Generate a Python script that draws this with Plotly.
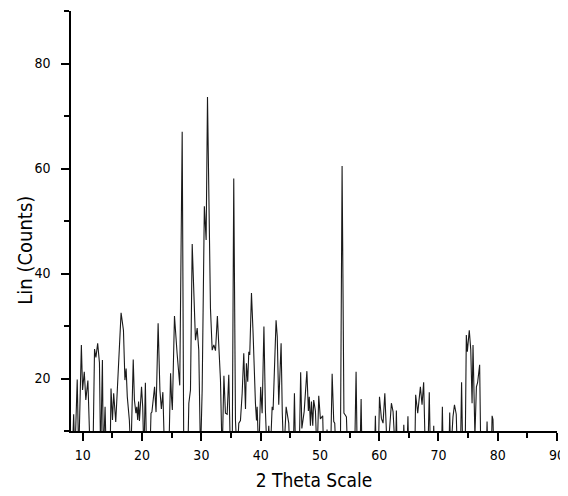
import plotly.graph_objects as go

# 2-theta positions (degrees) and intensities (counts); values below 10 fall off the axis
two_theta = [
    8.0, 8.2, 8.45, 8.65, 9.05, 9.3, 9.75, 9.95, 10.24, 10.5, 10.85, 11.1, 11.25, 11.7,
    11.97, 12.2, 12.5, 12.8, 13.0, 13.3, 13.45, 13.75, 13.95, 14.6, 14.75, 15.0, 15.2,
    15.55, 15.85, 16.05, 16.45, 16.85, 17.1, 17.3, 17.5, 17.85, 18.1, 18.5, 18.7, 18.95,
    19.1, 19.25, 19.4, 19.55, 19.9, 20.1, 20.3, 20.55, 20.75, 21.3, 21.5, 21.65, 22.1,
    22.35, 22.7, 23.0, 23.25, 23.5, 23.8, 24.5, 24.8, 24.95, 25.1, 25.46, 25.65, 25.9,
    26.35, 26.76, 27.03, 27.7, 27.88, 28.16, 28.45, 29.0, 29.29, 29.56, 29.85, 30.13,
    30.5, 30.8, 31.03, 31.53, 31.82, 32.1, 32.38, 32.7, 33.0, 33.22, 33.5, 33.8, 34.06,
    34.35, 34.62, 34.91, 35.2, 35.46, 35.75, 36.04, 36.31, 36.59, 36.88, 37.15, 37.44,
    37.6, 37.82, 38.0, 38.16, 38.45, 38.72, 38.95, 39.12, 39.3, 39.41, 39.68, 40.0,
    40.25, 40.55, 40.81, 41.1, 41.37, 41.6, 41.94, 42.1, 42.6, 42.8, 43.05, 43.45,
    43.65, 43.9, 44.3, 44.57, 44.74, 44.95, 45.5, 45.7, 45.9, 46.5, 46.75, 46.95, 47.1,
    47.34, 47.8, 48.05, 48.2, 48.4, 48.57, 48.79, 48.95, 49.24, 49.52, 49.8, 50.08,
    50.25, 50.47, 50.64, 51.1, 51.2, 51.35, 51.8, 52.06, 52.33, 52.5, 52.73, 53.45,
    53.74, 53.95, 54.05, 54.3, 54.47, 54.7, 55.85, 56.1, 56.3, 56.75, 56.95, 57.1,
    59.2, 59.36, 59.5, 59.85, 60.05, 60.37, 60.65, 60.95, 61.2, 61.4, 61.9, 62.06,
    62.34, 62.55, 62.75, 62.9, 63.05, 64.0, 64.15, 64.35, 64.65, 64.85, 65.0, 66.0,
    66.15, 66.5, 66.95, 67.23, 67.5, 67.8, 68.2, 68.45, 68.65, 69.1, 69.2, 69.35, 70.5,
    70.66, 70.8, 71.75, 71.9, 72.05, 72.45, 72.7, 73.0, 73.2, 73.7, 73.9, 74.1, 74.5,
    74.7, 74.87, 75.2, 75.45, 75.67, 75.83, 76.15, 76.4, 76.6, 76.95, 77.15, 78.05,
    78.2, 78.35, 78.9, 79.05, 79.2, 79.35,
]
counts = [
    9, 5, 13.2, 5, 19.8, 5, 26.4, 17.8, 21.3, 15.9, 19.6, 10.5, 5, 5,
    25.6, 24.0, 26.7, 23.0, 5, 23.5, 5, 14.6, 5, 5, 18.1, 12.1, 17.2,
    11.7, 19.0, 21.9, 32.5, 29.2, 19.7, 21.9, 16.5, 12.0, 5, 23.6, 15.9, 13.4,
    14.6, 12.1, 15.6, 11.9, 18.4, 14.6, 5, 19.2, 5, 5, 13.4, 13.6, 18.4,
    13.6, 30.5, 17.8, 14.2, 17.4, 5, 5, 21.0, 16.5, 14.0, 31.9, 29.5, 24.8,
    18.7, 67.0, 5, 5, 15.3, 17.8, 45.6, 27.3, 29.6, 25.4, 5, 17.8,
    52.8, 46.4, 73.6, 33.4, 25.4, 26.4, 25.3, 31.9, 24.8, 19.7, 5, 20.5, 13.4,
    13.2, 20.7, 5, 5, 58.1, 12.0, 5, 11.5, 12.0, 17.2, 24.8, 14.2,
    22.9, 19.4, 25.1, 24.5, 36.3, 28.7, 17.8, 15.3, 12.0, 14.6, 5, 18.4,
    13.4, 29.9, 13.6, 5, 11.0, 5, 14.6, 14.0, 31.1, 28.0, 15.0, 26.7,
    13.4, 5, 14.6, 12.1, 11.5, 5, 5, 17.2, 5, 5, 21.2, 10.5, 11.7,
    13.7, 21.4, 13.8, 16.5, 11.0, 15.6, 11.0, 15.9, 13.8, 5, 16.7, 12.3,
    12.5, 12.9, 5, 5, 10.3, 5, 5, 20.9, 11.8, 11.5, 5, 5,
    60.5, 14.0, 13.4, 13.0, 12.7, 5, 5, 21.3, 5, 5, 16.1, 5,
    5, 12.9, 5, 5, 16.5, 12.4, 11.5, 17.2, 11.5, 5, 12.7, 15.3,
    13.7, 5, 5, 13.9, 5, 5, 11.2, 5, 5, 12.8, 5, 5,
    16.9, 13.4, 18.4, 15.0, 19.3, 5, 5, 17.4, 5, 5, 11.0, 5, 5,
    14.6, 5, 5, 13.5, 5, 12.7, 15.0, 13.2, 5, 5, 19.3, 5, 5,
    28.3, 25.1, 29.2, 25.5, 15.3, 26.4, 9, 18.4, 19.2, 22.6, 5, 5,
    11.8, 5, 5, 12.9, 12.2, 5,
]

x_tick_vals = [10, 20, 30, 40, 50, 60, 70, 80, 90]
y_tick_vals = [20, 40, 60, 80]

FONT = "DejaVu Sans Condensed, Liberation Sans, Arial, sans-serif"

fig = go.Figure(
    go.Scatter(
        x=two_theta,
        y=counts,
        mode="lines",
        line=dict(color="#1a1a1a", width=1.1),
        showlegend=False,
        hoverinfo="skip",
    )
)

# page body has an 8px default margin, so the figure is sized to fit inside the window
fig.update_layout(
    width=560,
    height=488,
    margin=dict(l=63, r=11, t=3, b=65),
    paper_bgcolor="white",
    plot_bgcolor="white",
    font=dict(family=FONT, color="black", size=14),
)

fig.update_xaxes(
    range=[8, 90],
    showgrid=False,
    zeroline=False,
    showline=True,
    linecolor="black",
    linewidth=1.5,
    ticks="outside",
    ticklen=8,
    tickwidth=1.5,
    tickcolor="black",
    tickvals=x_tick_vals,
    ticktext=[str(v) for v in x_tick_vals],
    tickfont=dict(size=14, family=FONT),
    ticklabelstandoff=2,
    minor=dict(dtick=5, tick0=0, ticks="outside", ticklen=5, tickwidth=1.5, tickcolor="black"),
    title=dict(text="2 Theta Scale", font=dict(size=19, family=FONT), standoff=12),
)

fig.update_yaxes(
    range=[10, 90],
    showgrid=False,
    zeroline=False,
    showline=True,
    linecolor="black",
    linewidth=1.5,
    ticks="outside",
    ticklen=8,
    tickwidth=1.5,
    tickcolor="black",
    tickvals=y_tick_vals,
    ticktext=[str(v) for v in y_tick_vals],
    tickfont=dict(size=14, family=FONT),
    ticklabelstandoff=8,
    minor=dict(dtick=10, tick0=0, ticks="outside", ticklen=5, tickwidth=1.5, tickcolor="black"),
)

fig.add_annotation(
    text="Lin (Counts)",
    textangle=-90,
    xref="paper",
    yref="paper",
    x=-0.094,
    y=0.43,
    xanchor="center",
    yanchor="middle",
    showarrow=False,
    font=dict(size=20, family=FONT, color="black"),
)

fig.write_html("out.html")
